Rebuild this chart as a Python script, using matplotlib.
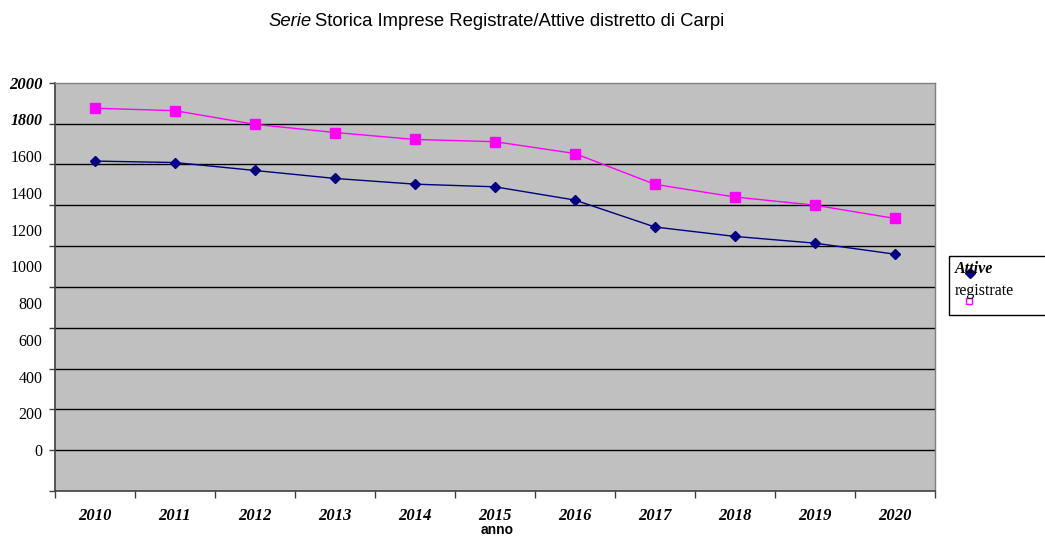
import matplotlib
matplotlib.use("Agg")
import matplotlib.pyplot as plt
from matplotlib.lines import Line2D
from matplotlib.patches import Rectangle

years = ["2010", "2011", "2012", "2013", "2014", "2015", "2016", "2017", "2018", "2019", "2020"]
registrate = [1875, 1863, 1796, 1756, 1722, 1711, 1653, 1502, 1440, 1400, 1335]
attive = [1616, 1609, 1570, 1531, 1503, 1490, 1425, 1293, 1247, 1214, 1160]
y_ticks = [0, 200, 400, 600, 800, 1000, 1200, 1400, 1600, 1800, 2000]

W, H = 1045, 537
fig = plt.figure(figsize=(W / 100, H / 100), dpi=100)
L, R, T, B = 55, 935, 82.7, 491
ax = fig.add_axes([L / W, 1 - B / H, (R - L) / W, (B - T) / H])
ax.set_facecolor("#C0C0C0")

x = list(range(len(years)))
ax.plot(x, registrate, color="#FF00FF", lw=1.0, marker="s", ms=7, mec="#FF00FF", mfc="#FF00FF", zorder=3)
ax.plot(x, attive, color="#000080", lw=1.0, marker="D", ms=5.5, mec="#000080", mfc="#000080", zorder=3)

ax.set_xlim(-0.5, len(years) - 0.5)
ax.set_ylim(0, 2000)
ax.set_yticks(y_ticks)
ax.set_yticklabels([])
for v in y_ticks[1:-1]:
    ax.axhline(v, color="#000000", lw=1.0, zorder=1)
ax.tick_params(axis="y", length=4, width=1, color="#404040", direction="out")

# x: category boundaries as ticks, labels at centres
ax.set_xticks([i - 0.5 for i in range(len(years) + 1)])
ax.set_xticklabels([])
ax.set_xticks(x, minor=True)
ax.set_xticklabels(years, minor=True, fontfamily="Liberation Serif", fontweight="bold",
                   fontstyle="italic", fontsize=12)
ax.tick_params(axis="x", which="major", length=5, width=1, color="#404040", direction="out")
ax.tick_params(axis="x", which="minor", length=0, pad=12)

for s in ["left", "bottom"]:
    ax.spines[s].set_color("#404040")
    ax.spines[s].set_linewidth(1.2)
for s in ["top", "right"]:
    ax.spines[s].set_color("#808080")
    ax.spines[s].set_linewidth(1.0)

# y tick labels (rendered on a separate label axis, as in the original)
lab_bottom = 450
ax2 = fig.add_axes(ax.get_position(), frameon=False)
span = (lab_bottom - T)
lo = -(B - lab_bottom) / span * 2000
ax2.set_ylim(lo, 2000)
ax2.set_xticks([])
ax2.set_yticks(y_ticks)
labels = ax2.set_yticklabels([str(v) for v in y_ticks], fontfamily="Liberation Serif", fontsize=11.5)
for lab, v in zip(labels, y_ticks):
    if v >= 1800:
        lab.set_fontweight("bold")
        lab.set_fontstyle("italic")
labels[-1].set_fontsize(12)
ax2.tick_params(axis="y", length=0, pad=9)
ax2.patch.set_alpha(0)

# title
t1 = fig.text(268 / W, 1 - 21 / H, "Serie", fontfamily="Liberation Sans", fontstyle="italic",
              fontsize=13.3, va="center", ha="left")
fig.canvas.draw()
bb = t1.get_window_extent()
fig.text(bb.x1 / W + 4 / W, 1 - 21 / H, "Storica Imprese Registrate/Attive distretto di Carpi",
         fontfamily="Liberation Sans", fontsize=13.3, va="center", ha="left")

# x-axis title
fig.text(497 / W, 1 - 530 / H, "anno", fontfamily="Liberation Sans", fontweight="bold",
         fontsize=10, ha="center", va="center")

# legend
fig.patches.append(Rectangle((949 / W, 1 - 315 / H), 100 / W, 59 / H, transform=fig.transFigure,
                             facecolor="white", edgecolor="#000000", lw=1.0))
fig.text(955 / W, 1 - 269 / H, "Attive", fontfamily="Liberation Serif", fontweight="bold",
         fontstyle="italic", fontsize=11.5, va="center", ha="left")
fig.text(955 / W, 1 - 291 / H, "registrate", fontfamily="Liberation Serif",
         fontsize=11.5, va="center", ha="left")
fig.lines.append(Line2D([970 / W], [1 - 273 / H], transform=fig.transFigure, marker="D", ms=5.5,
                        color="#000080", ls="none"))
fig.lines.append(Line2D([969 / W], [1 - 301 / H], transform=fig.transFigure, marker="s", ms=5,
                        mfc="white", mec="#FF00FF", ls="none"))

fig.savefig("out.png", dpi=100)
